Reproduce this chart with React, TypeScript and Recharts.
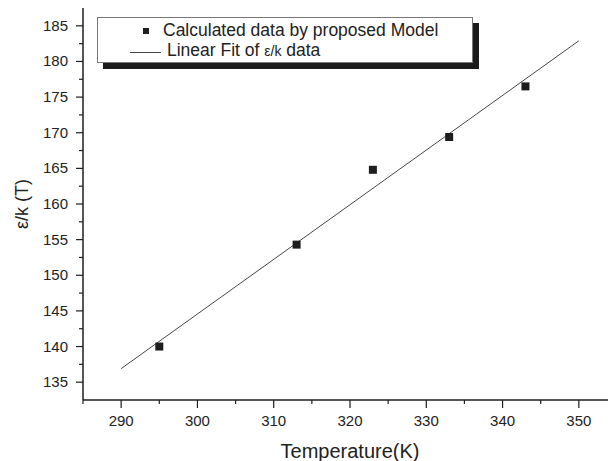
import { Legend, Scatter, ScatterChart, XAxis, YAxis } from 'recharts'

// measured points (Temperature in K, eps/k in K)
const temperatures = [295, 313, 323, 333, 343]
const epsOverK = [140, 154.3, 164.8, 169.4, 176.5]

// linear fit end points
const fitTemps = [290, 350]
const fitValues = [136.9, 182.9]

const xTicks = [285, 290, 295, 300, 305, 310, 315, 320, 325, 330, 335, 340, 345, 350, 355]
const yTicks = [
  135, 137.5, 140, 142.5, 145, 147.5, 150, 152.5, 155, 157.5, 160, 162.5, 165, 167.5, 170, 172.5,
  175, 177.5, 180, 182.5, 185,
]

const measured = temperatures.map((x, i) => ({ x, y: epsOverK[i] }))
const fit = fitTemps.map((x, i) => ({ x, y: fitValues[i] }))

const FONT = '"Liberation Sans", Arial, sans-serif'
const INK = '#1e1e1e'

function XTick({ x, y, payload }: any) {
  const major = payload.value % 10 === 0
  return (
    <g>
      <line stroke={INK} strokeWidth={1.2} x1={x} x2={x} y1={y} y2={y + (major ? 8 : 4)} />
      {major && (
        <text fill="#222" fontFamily={FONT} fontSize={15} textAnchor="middle" x={x} y={y + 26}>
          {payload.value}
        </text>
      )}
    </g>
  )
}

function YTick({ x, y, payload }: any) {
  const major = payload.value % 5 === 0
  return (
    <g>
      <line stroke={INK} strokeWidth={1.2} x1={x - (major ? 7 : 4)} x2={x} y1={y} y2={y} />
      {major && (
        <text fill="#222" fontFamily={FONT} fontSize={15} textAnchor="end" x={x - 15} y={y + 5}>
          {payload.value}
        </text>
      )}
    </g>
  )
}

function SquareDot({ cx, cy }: any) {
  return <rect fill={INK} height={8} width={8} x={cx - 4} y={cy - 4} />
}

function LegendBox() {
  return (
    <div
      style={{
        position: 'relative',
        width: 374,
        height: 44,
        background: '#fff',
        border: '1px solid #777',
        boxShadow: '6px 6px 0 #1a1a1a',
        fontFamily: FONT,
        fontSize: 17.5,
        lineHeight: '17px',
        color: '#222',
      }}
    >
      <div style={{ position: 'absolute', left: 45, top: 10, width: 6, height: 6, background: INK }} />
      <div style={{ position: 'absolute', left: 65, top: 4, whiteSpace: 'nowrap' }}>
        Calculated data by proposed Model
      </div>
      <div style={{ position: 'absolute', left: 32, top: 34, width: 31, height: 1, background: '#444' }} />
      <div style={{ position: 'absolute', left: 69, top: 24, whiteSpace: 'nowrap' }}>
        Linear Fit of <span style={{ fontSize: 14 }}>ε/k</span> data
      </div>
    </div>
  )
}

export default function App() {
  return (
    <div style={{ position: 'fixed', left: 0, top: 0, width: 608, height: 461, overflow: 'hidden', background: '#fff' }}>
      <ScatterChart height={461} margin={{ top: 8, right: 23, bottom: 0, left: 0 }} width={640}>
        <XAxis
          axisLine={{ stroke: INK, strokeWidth: 1.5 }}
          dataKey="x"
          domain={[285, 355]}
          height={61}
          interval={0}
          label={{ value: 'Temperature(K)', position: 'insideBottom', offset: 3, fill: '#222', fontFamily: FONT, fontSize: 20 }}
          tick={<XTick />}
          tickLine={false}
          tickMargin={0}
          tickSize={0}
          ticks={xTicks}
          type="number"
        />
        <XAxis
          axisLine={{ stroke: INK, strokeWidth: 1.5 }}
          dataKey="x"
          domain={[285, 355]}
          height={0}
          orientation="top"
          tick={false}
          tickLine={false}
          type="number"
          xAxisId="top"
        />
        <YAxis
          axisLine={{ stroke: INK, strokeWidth: 1.5 }}
          dataKey="y"
          domain={[132.5, 187.5]}
          interval={0}
          label={{
            value: 'ε/k (T)',
            angle: -90,
            position: 'insideLeft',
            offset: 22,
            fill: '#222',
            fontFamily: FONT,
            fontSize: 18,
            style: { textAnchor: 'middle' },
          }}
          tick={<YTick />}
          tickLine={false}
          tickMargin={0}
          tickSize={0}
          ticks={yTicks}
          type="number"
          width={83}
        />
        <YAxis
          axisLine={{ stroke: INK, strokeWidth: 1.5 }}
          dataKey="y"
          domain={[132.5, 187.5]}
          orientation="right"
          tick={false}
          tickLine={false}
          type="number"
          width={0}
          yAxisId="right"
        />
        <Legend
          align="center"
          content={<LegendBox />}
          layout="vertical"
          verticalAlign="middle"
          wrapperStyle={{ left: 97, top: 17, width: 'auto', height: 'auto' }}
        />
        <Scatter
          data={fit}
          isAnimationActive={false}
          line={{ stroke: '#333', strokeWidth: 0.9 }}
          shape={() => <g />}
        />
        <Scatter data={measured} isAnimationActive={false} shape={<SquareDot />} />
      </ScatterChart>
    </div>
  )
}
